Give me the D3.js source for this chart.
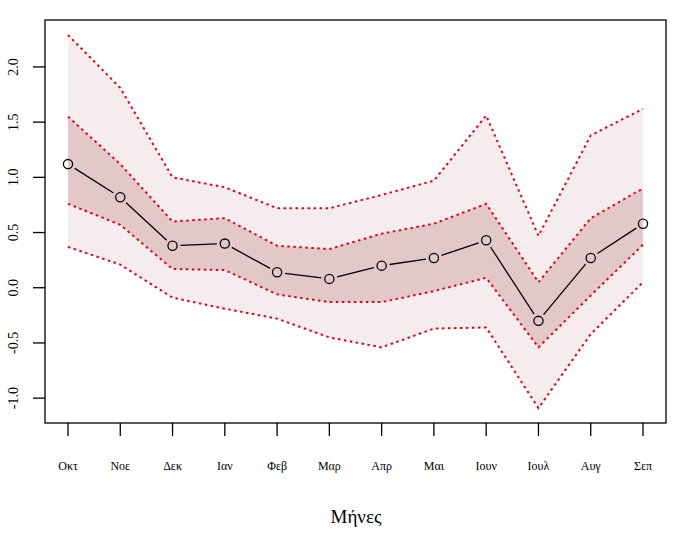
<!DOCTYPE html>
<html><head><meta charset="utf-8">
<script src="https://cdn.jsdelivr.net/npm/d3@7"></script>
<style>body{margin:0;background:#fff}svg{display:block}</style>
</head><body><svg id="c" width="676" height="534"></svg>
<script>
const months = ["Οκτ","Νοε","Δεκ","Ιαν","Φεβ","Μαρ","Απρ","Μαι","Ιουν","Ιουλ","Αυγ","Σεπ"];
const mean   = [1.12, 0.82, 0.38, 0.40, 0.14, 0.08, 0.20, 0.27, 0.43, -0.30, 0.27, 0.58];
const upper95 = [2.29, 1.81, 1.00, 0.91, 0.72, 0.72, 0.84, 0.97, 1.56, 0.47, 1.38, 1.62];
const upper50 = [1.55, 1.12, 0.60, 0.63, 0.38, 0.35, 0.49, 0.58, 0.76, 0.05, 0.63, 0.90];
const lower50 = [0.76, 0.57, 0.17, 0.16, -0.06, -0.13, -0.13, -0.03, 0.09, -0.54, -0.07, 0.39];
const lower95 = [0.37, 0.21, -0.09, -0.19, -0.28, -0.45, -0.54, -0.37, -0.36, -1.09, -0.42, 0.05];
const yTicks = [-1.0, -0.5, 0.0, 0.5, 1.0, 1.5, 2.0];

const svg = d3.select("#c");
const L = 45, R = 666, T = 20, B = 423;
const x = d3.scaleLinear().domain([0.56, 12.44]).range([L, R]);
const yMin = -1.09, yMax = 2.29, pad = (yMax - yMin) * 0.04;
const y = d3.scaleLinear().domain([yMin - pad, yMax + pad]).range([B, T]);

const serif = "'Liberation Serif', 'Times New Roman', serif";

function band(lo, hi, fill) {
  const a = d3.area().x((d,i)=>x(i+1)).y0((d,i)=>y(lo[i])).y1((d,i)=>y(hi[i]));
  svg.append("path").attr("d", a(months)).attr("fill", fill);
}
band(lower95, upper95, "#f5eded");
band(lower50, upper50, "#e3c8c9");

function dotted(vals) {
  const l = d3.line().x((d,i)=>x(i+1)).y((d)=>y(d));
  svg.append("path").attr("d", l(vals)).attr("fill","none")
    .attr("stroke","#e5001a").attr("stroke-width",2).attr("stroke-dasharray","2.5,3.5");
}
[upper95, upper50, lower50, lower95].forEach(dotted);

const gap = 8;
for (let i = 0; i < mean.length - 1; i++) {
  const x1 = x(i+1), y1 = y(mean[i]), x2 = x(i+2), y2 = y(mean[i+1]);
  const dx = x2-x1, dy = y2-y1, len = Math.hypot(dx,dy);
  if (len <= 2*gap) continue;
  const ux = dx/len, uy = dy/len;
  svg.append("line").attr("x1", x1+ux*gap).attr("y1", y1+uy*gap)
    .attr("x2", x2-ux*gap).attr("y2", y2-uy*gap)
    .attr("stroke","#000").attr("stroke-width",1.3);
}
svg.selectAll("circle.pt").data(mean).enter().append("circle")
  .attr("cx",(d,i)=>x(i+1)).attr("cy",d=>y(d)).attr("r",4.6)
  .attr("fill","none").attr("stroke","#000").attr("stroke-width",1.3);

svg.append("rect").attr("x",L).attr("y",T).attr("width",R-L).attr("height",B-T)
  .attr("fill","none").attr("stroke","#000").attr("stroke-width",1.3);

const ya = svg.append("g");
yTicks.forEach(t=>{
  ya.append("line").attr("x1",L).attr("x2",L-12).attr("y1",y(t)).attr("y2",y(t))
    .attr("stroke","#000").attr("stroke-width",1.3);
  ya.append("text").attr("transform",`translate(18,${y(t)}) rotate(-90)`)
    .attr("text-anchor","middle").attr("font-family",serif).attr("font-size",14)
    .text(t.toFixed(1));
});
const xa = svg.append("g");
months.forEach((m,i)=>{
  xa.append("line").attr("x1",x(i+1)).attr("x2",x(i+1)).attr("y1",B).attr("y2",B+13)
    .attr("stroke","#000").attr("stroke-width",1.3);
  xa.append("text").attr("x",x(i+1)).attr("y",470).attr("text-anchor","middle")
    .attr("font-family",serif).attr("font-size",12).text(m);
});
svg.append("text").attr("x",356).attr("y",523).attr("text-anchor","middle")
  .attr("font-family",serif).attr("font-size",19).text("Μήνες");
</script></body></html>
